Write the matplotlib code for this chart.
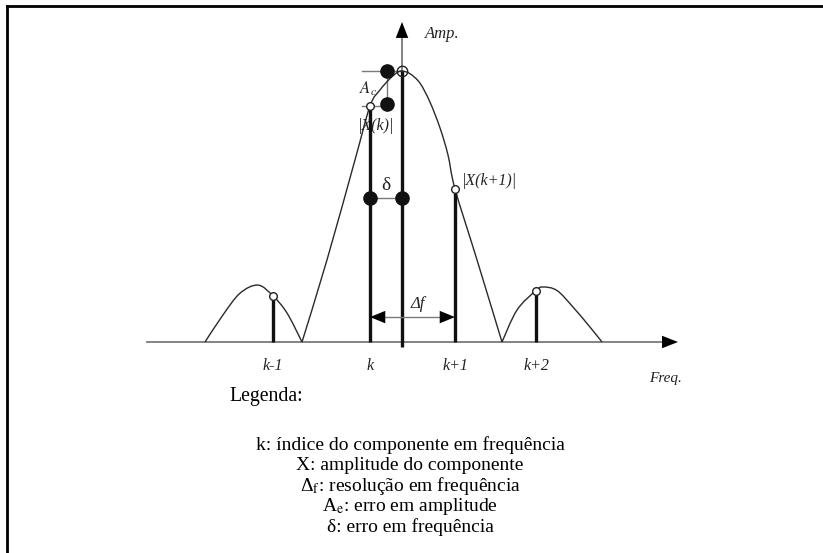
import matplotlib
matplotlib.use("Agg")
import matplotlib.pyplot as plt
from matplotlib.path import Path
from matplotlib.patches import PathPatch
from matplotlib.lines import Line2D
import numpy as np

plt.rcParams['font.family'] = ['Liberation Serif', 'DejaVu Serif']
plt.rcParams['mathtext.fontset'] = 'stix'

# ---- spectral data (frequency in bin-spacing units, amplitude normalised) ----
bin_labels = ['k-1', 'k', 'k+1', 'k+2']
bin_freq = [-1.29, -0.32, 0.53, 1.34]
bin_amp = [0.17, 0.87, 0.565, 0.19]

true_freq = 0.0
true_amp = 1.0

# window spectrum lobes
main_lobe_f = [-1.00, -0.75, -0.47, -0.32, -0.22, -0.12, -0.05, 0.00,
               0.08, 0.18, 0.28, 0.38, 0.46, 0.53, 0.75, 1.00]
main_lobe_a = [0.00, 0.303, 0.672, 0.871, 0.930, 0.972, 0.994, 1.00,
               0.990, 0.955, 0.885, 0.790, 0.690, 0.565, 0.303, 0.00]
left_lobe_f = [-1.97, -1.79, -1.62, -1.44, -1.29, -1.15, -1.00]
left_lobe_a = [0.00, 0.100, 0.180, 0.210, 0.170, 0.107, 0.00]
right_lobe_f = [1.00, 1.15, 1.34, 1.41, 1.55, 1.71, 1.88, 2.00]
right_lobe_a = [0.00, 0.118, 0.190, 0.203, 0.190, 0.129, 0.055, 0.00]

delta_level = 0.531      # height of the frequency-error marker
ac_freq = -0.15          # position of the amplitude-error marker
df_level = 0.092         # height of the resolution arrow

legend_lines = [
    'k: índice do componente em frequência',
    'X: amplitude do componente',
    r'Δ$_\mathrm{f}$: resolução em frequência',
    r'A$_\mathrm{e}$: erro em amplitude',
    'δ: erro em frequência',
]

W, H = 823, 553
fig = plt.figure(figsize=(W / 100, H / 100), dpi=100)
ax = fig.add_axes([0, 0, 1, 1])
ax.set_xlim(-4.02, 4.21)
ax.set_ylim(-0.7786, 1.262)
ax.axis('off')

AXIS_GRAY = '#7a7a7a'


def smooth_path(xs, ys):
    """Catmull-Rom curve through the given points as cubic Bezier segments."""
    pts = np.column_stack([xs, ys]).astype(float)
    sx, sy = 100.0, 271.0
    p = pts * [sx, sy]
    verts = [p[0]]
    codes = [Path.MOVETO]
    n = len(p)
    for i in range(n - 1):
        p0 = p[i - 1] if i > 0 else p[i]
        p1 = p[i]
        p2 = p[i + 1]
        p3 = p[i + 2] if i + 2 < n else p[i + 1]
        c1 = p1 + (p2 - p0) / 6.0
        c2 = p2 - (p3 - p1) / 6.0
        verts += [c1, c2, p2]
        codes += [Path.CURVE4] * 3
    verts = np.array(verts) / [sx, sy]
    return Path(verts, codes)


for fx, ay in [(main_lobe_f, main_lobe_a), (left_lobe_f, left_lobe_a),
               (right_lobe_f, right_lobe_a)]:
    ax.add_patch(PathPatch(smooth_path(fx, ay), fill=False,
                           ec='#2a2a2a', lw=1.0, zorder=3))

# frequency axis
ax.plot([-2.55, 2.62], [0, 0], color=AXIS_GRAY, lw=1.3, zorder=1)
ax.annotate('', xy=(2.76, 0), xytext=(2.60, 0),
            arrowprops=dict(arrowstyle='-|>,head_length=1.15,head_width=0.45',
                            fc='black', ec='black', lw=0, mutation_scale=10,
                            shrinkA=0, shrinkB=0), zorder=5)
# amplitude axis
ax.plot([true_freq, true_freq], [true_amp, 1.17], color=AXIS_GRAY, lw=1.3, zorder=1)
ax.annotate('', xy=(true_freq, 1.181), xytext=(true_freq, 1.12),
            arrowprops=dict(arrowstyle='-|>,head_length=1.15,head_width=0.45',
                            fc='black', ec='black', lw=0, mutation_scale=10,
                            shrinkA=0, shrinkB=0), zorder=5)

# true component
ax.plot([true_freq, true_freq], [-0.018, true_amp], color='#111111', lw=2.4,
        solid_capstyle='butt', zorder=4)
ax.plot(true_freq, true_amp, 'o', ms=7.5, mfc='none', mec='#222222', mew=1.0, zorder=6)

# spectral bins
for f, a in zip(bin_freq, bin_amp):
    ax.plot([f, f], [0, a], color='#111111', lw=2.4, solid_capstyle='butt', zorder=4)
    ax.plot(f, a, 'o', ms=5.5, mfc='white', mec='#222222', mew=1.0, zorder=6)

for lab, f in zip(bin_labels, bin_freq):
    ax.text(f, -0.089, lab, ha='center', va='center', style='italic',
            fontsize=11.5, color='#222222')

ax.text(2.64, -0.133, 'Freq.', ha='center', va='center', style='italic',
        fontsize=11, color='#222222')
ax.text(0.23, 1.137, 'Amp.', ha='left', va='center', style='italic',
        fontsize=12, color='#222222')

# frequency error δ
ax.plot([bin_freq[1], true_freq], [delta_level, delta_level], color=AXIS_GRAY,
        lw=1.0, zorder=5)
ax.plot([bin_freq[1], true_freq], [delta_level, delta_level], 'o', ms=9.5,
        color='#111111', zorder=7)
ax.text((bin_freq[1] + true_freq) / 2, delta_level + 0.045, 'δ', ha='center',
        va='center', fontsize=14, color='#222222')

# amplitude error A_c
ax.plot([-0.40, true_freq], [true_amp, true_amp], color=AXIS_GRAY, lw=1.0, zorder=2)
ax.plot([-0.40, ac_freq], [bin_amp[1], bin_amp[1]], color=AXIS_GRAY, lw=1.0, zorder=2)
ax.plot([ac_freq, ac_freq], [bin_amp[1], true_amp], color=AXIS_GRAY, lw=1.0, zorder=2)
ax.plot([ac_freq, ac_freq], [true_amp, bin_amp[1] + 0.008], 'o', ms=9.5,
        color='#111111', zorder=7)
ax.text(-0.34, 0.934, r'$\mathit{A_c}$', ha='center', va='center', fontsize=12,
        color='#222222')
ax.text(-0.26, 0.797, '|X(k)|', ha='center', va='center', style='italic',
        fontsize=11.5, color='#222222', zorder=8)
ax.text(0.87, 0.594, '|X(k+1)|', ha='center', va='center', style='italic',
        fontsize=11.5, color='#222222')

# resolution Δf
ax.plot([bin_freq[1] + 0.1, bin_freq[2] - 0.1], [df_level, df_level],
        color=AXIS_GRAY, lw=1.0, zorder=4)
for tip, tail in [(bin_freq[1], bin_freq[1] + 0.15), (bin_freq[2], bin_freq[2] - 0.15)]:
    ax.annotate('', xy=(tip, df_level), xytext=(tail, df_level),
                arrowprops=dict(arrowstyle='-|>,head_length=1.1,head_width=0.45',
                                fc='black', ec='black', lw=0, mutation_scale=10,
                                shrinkA=0, shrinkB=0), zorder=6)
ax.text(0.16, 0.14, 'Δf', ha='center', va='center', style='italic',
        fontsize=12, color='#222222')

# legend block
fig.text(229 / W, 1 - 397 / H, 'Legenda:', ha='left', va='center', fontsize=14.2)
for i, line in enumerate(legend_lines):
    fig.text(410 / W, 1 - (445 + 20.6 * i) / H, line, ha='center', va='center',
             fontsize=14.0)

# frame
fig.add_artist(Line2D([6.5 / W, 1.0], [1 - 5.5 / H, 1 - 5.5 / H],
                      transform=fig.transFigure, color='black', lw=2.0,
                      solid_capstyle='projecting'))
fig.add_artist(Line2D([6.5 / W, 6.5 / W], [0.0, 1 - 5.5 / H],
                      transform=fig.transFigure, color='black', lw=2.0,
                      solid_capstyle='projecting'))

fig.savefig('out.png', dpi=100)
